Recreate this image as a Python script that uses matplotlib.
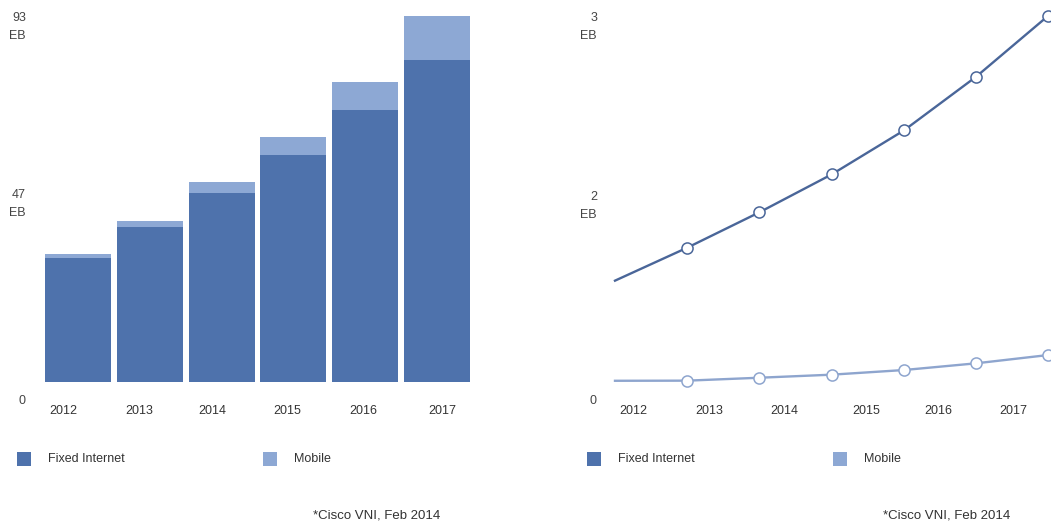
import matplotlib
matplotlib.use("Agg")
import matplotlib.pyplot as plt
from matplotlib.patches import Rectangle
from matplotlib.transforms import ScaledTranslation

plt.rcParams['font.family'] = ['Liberation Sans', 'DejaVu Sans']

# Monthly traffic (EB), 2012-2017
years = ["2012", "2013", "2014", "2015", "2016", "2017"]
fixed_internet = [31.5, 39.3, 48.0, 57.7, 69.0, 81.8]
mobile = [0.9, 1.6, 2.8, 4.6, 7.2, 11.2]

# Second panel series (EB), seven points along the period
line_fixed = [0.83, 1.10, 1.39, 1.70, 2.06, 2.50, 3.00]
line_mobile = [0.01, 0.011, 0.035, 0.06, 0.098, 0.153, 0.221]

left_ticks = [0, 47, 93]
left_ticklabels = ["0", "47\nEB", "93\nEB"]
right_ticks = [0, 1.5, 3]
right_ticklabels = ["0", "2\nEB", "3\nEB"]

# year label positions along each x axis
bar_year_pos = [-0.21, 0.85, 1.87, 2.92, 3.97, 5.08]
line_year_pos = [0.26, 1.30, 2.35, 3.48, 4.48, 5.51]

DARK = "#4E72AC"
LIGHT = "#8DA8D4"
LINE_DARK = "#4A6699"
LINE_LIGHT = "#8EA5CE"
TEXT = "#333333"

W, H = 1051, 525
fig = plt.figure(figsize=(W / 100, H / 100), dpi=100)
fig.patch.set_facecolor("white")


def px_axes(x0, x1, ytop, ybot):
    return fig.add_axes([x0 / W, (H - ybot) / H, (x1 - x0) / W, (ybot - ytop) / H])


def style(ax, ticks, labels, offsets, xpos, xlabels, ylim, ypad):
    for s in ax.spines.values():
        s.set_visible(False)
    ax.set_ylim(*ylim)
    ax.set_yticks(ticks)
    ax.set_yticklabels(labels, fontsize=9, color="#444444", ha="right",
                       multialignment="right", va="center", linespacing=1.65)
    ax.tick_params(axis="y", length=0, pad=ypad)
    for lab, dy in zip(ax.get_yticklabels(), offsets):
        lab.set_transform(lab.get_transform() +
                          ScaledTranslation(0, -dy / 100, fig.dpi_scale_trans))
    ax.set_xticks(xpos)
    ax.set_xticklabels(xlabels, fontsize=9, color=TEXT)
    ax.tick_params(axis="x", length=0, pad=16.3)


# Stacked bar panel
ax1 = px_axes(42.5, 472.5, 15.7, 382)
x = range(len(years))
ax1.bar(x, fixed_internet, width=0.92, color=DARK, linewidth=0)
ax1.bar(x, mobile, bottom=fixed_internet, width=0.92, color=LIGHT, linewidth=0)
ax1.set_xlim(-0.5, len(years) - 0.5)
style(ax1, left_ticks, left_ticklabels, [18.5, 7, 11.5], bar_year_pos, years,
      (0, 93), 12)

# Line panel
ax2 = px_axes(615, 1048.3, 15.7, 382)
xs = range(len(line_fixed))
for vals, col in ((line_fixed, LINE_DARK), (line_mobile, LINE_LIGHT)):
    ax2.plot(xs, vals, color=col, lw=1.7, marker="o", markersize=8,
             markerfacecolor="white", markeredgecolor=col, markeredgewidth=1.1,
             markevery=list(range(1, len(vals))), clip_on=False, zorder=3)
ax2.set_xlim(0, len(line_fixed) - 1)
style(ax2, right_ticks, right_ticklabels, [18.5, 7, 11.5], line_year_pos, years,
      (0, 3), 13)

# Legends and source notes
for x0, label, col in ((17, "Fixed Internet", DARK), (263, "Mobile", LIGHT),
                       (587, "Fixed Internet", DARK), (833, "Mobile", LIGHT)):
    fig.patches.append(Rectangle((x0 / W, (H - 466) / H), 14 / W, 14 / H,
                                 transform=fig.transFigure, color=col, lw=0))
    fig.text((x0 + 31) / W, (H - 459) / H, label, fontsize=9, color=TEXT,
             va="center", ha="left")

for cx in (377, 947):
    fig.text(cx / W, (H - 515) / H, "*Cisco VNI, Feb 2014", fontsize=9.5,
             color=TEXT, va="center", ha="center")

fig.savefig("out.png", dpi=100, facecolor="white")
